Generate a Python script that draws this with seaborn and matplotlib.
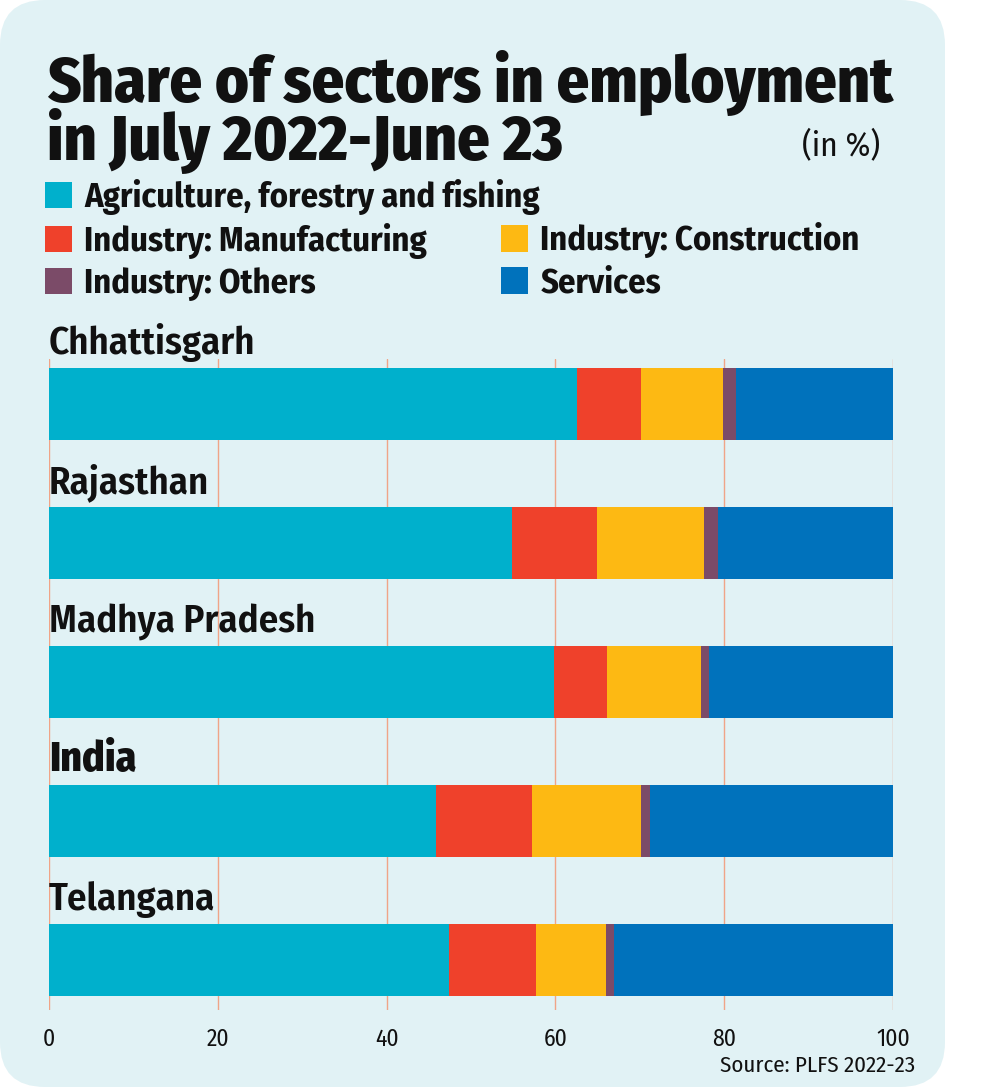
import matplotlib
matplotlib.use("Agg")
import matplotlib.pyplot as plt
import seaborn as sns
import pandas as pd
from matplotlib.patches import FancyBboxPatch, Patch

# ---------------- data ----------------
regions = ["Chhattisgarh", "Rajasthan", "Madhya Pradesh", "India", "Telangana"]
sectors = ["Agriculture, forestry and fishing", "Industry: Manufacturing",
           "Industry: Construction", "Industry: Others", "Services"]
agriculture = [62.6, 54.8, 59.8, 45.8, 47.4]
manufacturing = [7.6, 10.1, 6.3, 11.4, 10.3]
construction = [9.7, 12.7, 11.1, 13.0, 8.3]
others = [1.5, 1.7, 1.0, 1.0, 1.0]
services = [18.6, 20.7, 21.8, 28.8, 33.0]
x_ticks = [0, 20, 40, 60, 80, 100]
colors = ["#00b0cc", "#ef412b", "#fdb913", "#7b4b68", "#0072bc"]

title_lines = ["Share of sectors in employment", "in July 2022-June 23"]
unit_text = "(in %)"
source_text = "Source: PLFS 2022-23"

# ---------------- style ----------------
sns.set_theme(style="white")
FAM = ["Fira Sans Condensed", "DejaVu Sans"]
plt.rcParams["font.family"] = FAM
TXT = "#111111"

W, H = 988, 1088
fig = plt.figure(figsize=(W / 100, H / 100), dpi=100)
fig.patch.set_facecolor("white")

bg = FancyBboxPatch((0.0, 0.01), 9.45, 10.87,
                    boxstyle="round,pad=0,rounding_size=0.45",
                    transform=fig.dpi_scale_trans, facecolor="#e1f2f5",
                    edgecolor="none", zorder=-10)
fig.add_artist(bg)

ax = fig.add_axes([49 / W, 1 - 1010 / H, 844 / W, 651 / H])
ax.set_facecolor("none")

df = pd.DataFrame({"region": regions,
                   sectors[0]: agriculture,
                   sectors[1]: manufacturing,
                   sectors[2]: construction,
                   sectors[3]: others,
                   sectors[4]: services})
cum = df[sectors].cumsum(axis=1)
cum["region"] = df["region"]

# stacked bars: draw cumulative totals from largest to smallest
for i in reversed(range(len(sectors))):
    sns.barplot(data=cum, x=sectors[i], y="region", orient="h",
                color=colors[i], saturation=1, width=0.518,
                errorbar=None, linewidth=0, ax=ax)

ax.set_xlim(0, 100)
ax.set_ylim(4.36, -0.324)
ax.set_xticks(x_ticks)
ax.set_xticklabels([str(t) for t in x_ticks])
ax.set_yticks([])
ax.set_xlabel("")
ax.set_ylabel("")
for s in ax.spines.values():
    s.set_visible(False)
ax.grid(axis="x", color="#f0a487", lw=1)
ax.grid(axis="y", visible=False)
ax.set_axisbelow(True)
ax.tick_params(axis="x", length=0, pad=13, labelsize=17, colors=TXT)

for i, r in enumerate(regions):
    india = r == "India"
    ax.text(0, i - 0.259 - 0.1, r, fontsize=30 if india else 28,
            fontweight=800 if india else 600, va="baseline", ha="left",
            color=TXT)

# ---------------- titles ----------------
fig.text(47 / W, 1 - 102 / H, title_lines[0], fontsize=46, fontweight=800,
         va="baseline", ha="left", color=TXT)
fig.text(47 / W, 1 - 160 / H, title_lines[1], fontsize=46, fontweight=800,
         va="baseline", ha="left", color=TXT)
fig.text(880 / W, 1 - 155 / H, unit_text, fontsize=24, va="baseline",
         ha="right", color=TXT)
fig.text(915 / W, 1 - 1072 / H, source_text, fontsize=16.5, va="baseline",
         ha="right", color=TXT)

# ---------------- legend ----------------
handles = [Patch(facecolor=c, edgecolor="none", label=s)
           for s, c in zip(sectors, colors)]
common = dict(frameon=False, handlelength=0.79,
              handleheight=0.82, handletextpad=0.35, labelspacing=0.23,
              borderpad=0, borderaxespad=0,
              prop={"weight": 700, "size": 24.8, "family": FAM})
leg1 = fig.legend(handles=[handles[0], handles[1], handles[3]],
                  loc="center left", bbox_to_anchor=(45 / W, 1 - 240 / H),
                  **common)
leg2 = fig.legend(handles=[handles[2], handles[4]],
                  loc="center left", bbox_to_anchor=(501 / W, 1 - 261 / H),
                  **common)
for lg in (leg1, leg2):
    for t in lg.get_texts():
        t.set_color(TXT)

fig.savefig("out.png", dpi=100, facecolor="white")
